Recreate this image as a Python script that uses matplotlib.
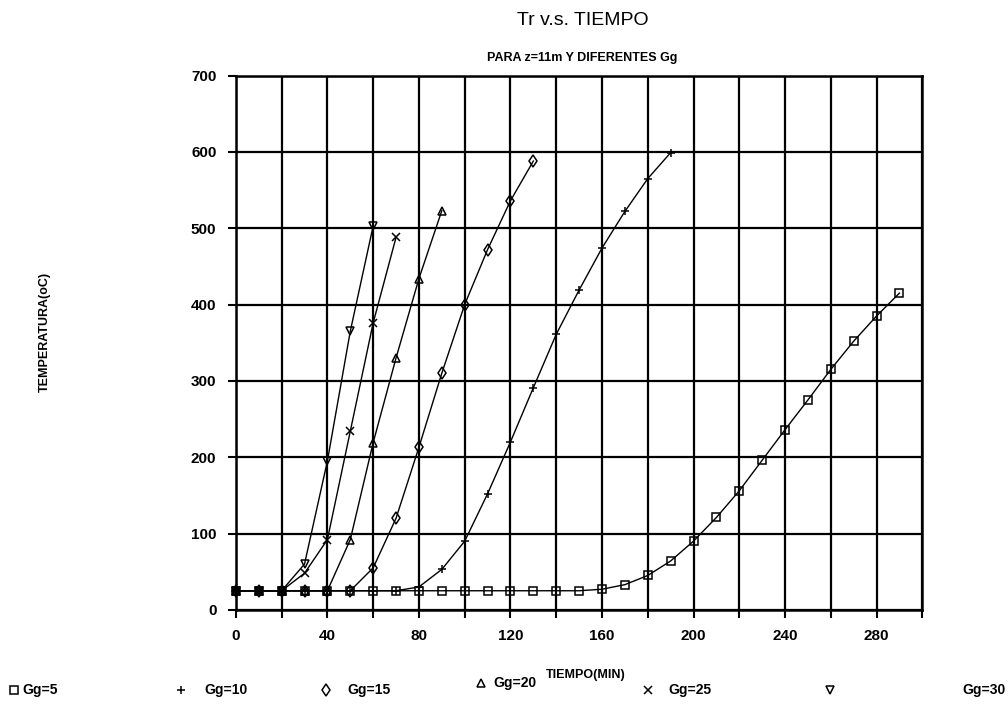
import numpy as np
import matplotlib
matplotlib.use('Agg')
import matplotlib.pyplot as plt
from matplotlib.lines import Line2D

plt.rcParams['font.family'] = ['Liberation Sans', 'DejaVu Sans']

# tiempo (min) y temperatura (oC) para cada Gg
t_gg5 = [0, 10, 20, 30, 40, 50, 60, 70, 80, 90, 100, 110, 120, 130, 140,
         150, 160, 170, 180, 190, 200, 210, 220, 230, 240, 250, 260, 270, 280, 290]
tr_gg5 = [25, 25, 25, 25, 25, 25, 25, 25, 25, 25, 25, 25, 25, 25, 25,
          25, 27, 33, 45, 64, 90, 121, 156, 196, 236, 275, 315, 352, 385, 415]

t_gg10 = [0, 10, 20, 30, 40, 50, 60, 70, 80, 90, 100, 110, 120, 130, 140,
          150, 160, 170, 180, 190]
tr_gg10 = [25, 25, 25, 25, 25, 25, 25, 25, 30, 53, 90, 152, 220, 291, 361,
           419, 474, 522, 565, 599]

t_gg15 = [0, 10, 20, 30, 40, 50, 60, 70, 80, 90, 100, 110, 120, 130]
tr_gg15 = [25, 25, 25, 25, 25, 25, 55, 120, 213, 310, 400, 472, 536, 588]

t_gg20 = [0, 10, 20, 30, 40, 50, 60, 70, 80, 90]
tr_gg20 = [25, 25, 25, 25, 25, 92, 219, 330, 434, 523]

t_gg25 = [0, 10, 20, 30, 40, 50, 60, 70]
tr_gg25 = [25, 25, 25, 48, 92, 234, 376, 488]

t_gg30 = [0, 10, 20, 30, 40, 50, 60]
tr_gg30 = [25, 25, 25, 60, 195, 365, 503]

series_labels = ['Gg=5', 'Gg=10', 'Gg=15', 'Gg=20', 'Gg=25', 'Gg=30']
series_markers = ['s', '+', 'd', '^', 'x', 'v']

x_ticks = list(range(0, 301, 20))
x_ticklabels = ['0', '', '40', '', '80', '', '120', '', '160', '', '200', '',
                '240', '', '280', '']
y_ticks = [0, 100, 200, 300, 400, 500, 600, 700]

fig = plt.figure(figsize=(10.08, 7.2), dpi=100)
ax = fig.add_axes([0.234, 0.153, 0.681, 0.742])

data = [(t_gg5, tr_gg5), (t_gg10, tr_gg10), (t_gg15, tr_gg15),
        (t_gg20, tr_gg20), (t_gg25, tr_gg25), (t_gg30, tr_gg30)]
for (t, tr), lab, mk in zip(data, series_labels, series_markers):
    ax.plot(t, tr, color='black', lw=1.0, marker=mk, markersize=6,
            markerfacecolor='none', markeredgecolor='black', markeredgewidth=1.1,
            label=lab, clip_on=False)

ax.set_xlim(0, 300)
ax.set_ylim(0, 700)
ax.set_xticks(x_ticks)
ax.set_xticklabels(x_ticklabels)
ax.set_yticks(y_ticks)
ax.grid(True, color='black', lw=1.6)
ax.set_axisbelow(True)
for s in ax.spines.values():
    s.set_linewidth(1.8)
ax.tick_params(direction='out', length=6, width=1.5, labelsize=11, pad=8)
for lbl in ax.get_xticklabels() + ax.get_yticklabels():
    lbl.set_fontweight('bold')

ax.set_xlabel('TIEMPO(MIN)', fontsize=9, fontweight='bold')
ax.xaxis.set_label_coords(0.51, -0.11)
ax.set_ylabel('TEMPERATURA(oC)', fontsize=9, fontweight='bold')
ax.yaxis.set_label_coords(-0.27, 0.52)

fig.text(0.578, 0.972, 'Tr v.s. TIEMPO', ha='center', va='center', fontsize=14)
fig.text(0.578, 0.920, 'PARA z=11m Y DIFERENTES Gg', ha='center', va='center',
         fontsize=9, fontweight='bold')

# leyenda al pie, como en el original (marcador y texto sueltos)
leg_marker_x = [0.014, 0.180, 0.323, 0.477, 0.643, 0.823]
leg_text_x = [0.022, 0.203, 0.345, 0.489, 0.663, 0.955]
leg_y = [0.042, 0.042, 0.042, 0.051, 0.042, 0.042]
for mk, lab, mx, tx, ly in zip(series_markers, series_labels,
                               leg_marker_x, leg_text_x, leg_y):
    fig.add_artist(Line2D([mx], [ly], transform=fig.transFigure, ls='none',
                          marker=mk, markersize=6, markerfacecolor='none',
                          markeredgecolor='black', markeredgewidth=1.1))
    fig.text(tx, ly, lab, ha='left', va='center', fontsize=10, fontweight='bold')

fig.savefig('out.png', dpi=100, facecolor='white')
